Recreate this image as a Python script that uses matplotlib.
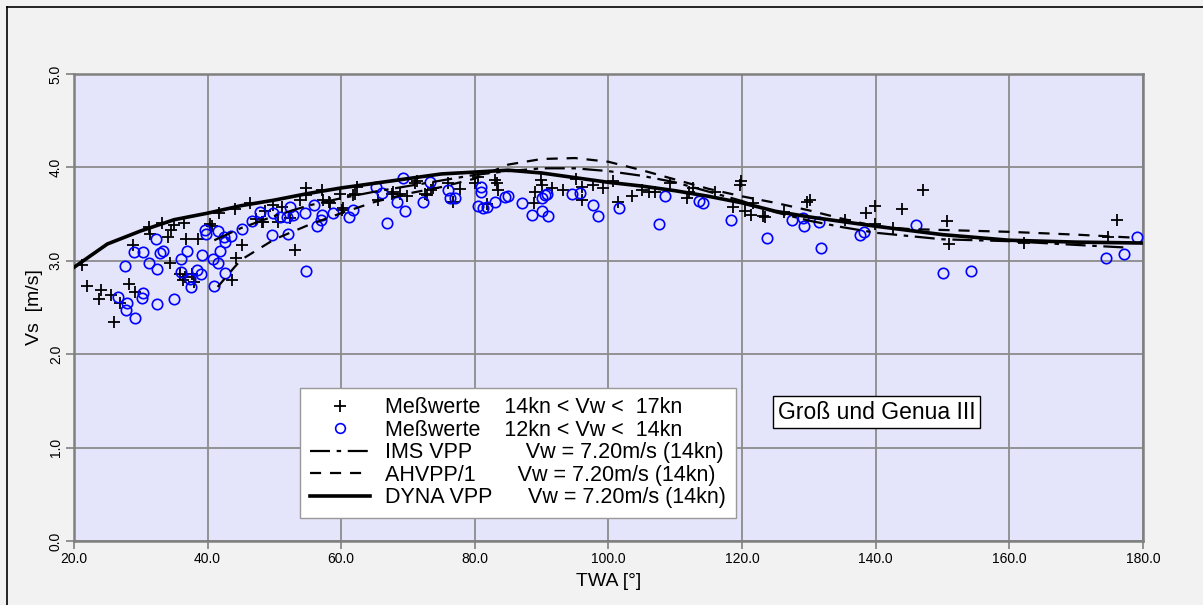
import numpy as np
import matplotlib.pyplot as plt
from matplotlib.lines import Line2D

plt.rcParams['font.family'] = ['Liberation Sans', 'DejaVu Sans']

# DYNA VPP
dyna_twa = [20, 25, 30, 35, 40, 45, 50, 55, 60, 65, 70, 75, 80, 85, 90, 95, 100, 105, 110,
            115, 120, 125, 130, 135, 140, 150, 160, 170, 180]
dyna_vs = [2.93, 3.18, 3.32, 3.44, 3.51, 3.59, 3.65, 3.72, 3.78, 3.83, 3.88, 3.93, 3.95, 3.97,
           3.94, 3.89, 3.84, 3.80, 3.75, 3.69, 3.62, 3.53, 3.47, 3.42, 3.37, 3.28, 3.22, 3.20, 3.19]
# IMS VPP
ims_twa = [41, 45, 50, 55, 60, 65, 70, 75, 80, 85, 90, 95, 100, 105, 110, 115, 120, 125, 130,
           135, 140, 150, 160, 170, 178]
ims_vs = [3.22, 3.35, 3.48, 3.59, 3.67, 3.74, 3.80, 3.86, 3.92, 3.96, 3.99, 3.99, 3.96, 3.91,
          3.84, 3.74, 3.64, 3.52, 3.43, 3.36, 3.30, 3.23, 3.21, 3.17, 3.14]
# AHVPP/1
ah_twa = [41.5, 44, 45, 50, 55, 60, 65, 70, 75, 80, 85, 90, 95, 100, 105, 110, 115, 120, 125,
          130, 135, 140, 145, 150, 160, 170, 178]
ah_vs = [2.72, 2.93, 3.01, 3.23, 3.38, 3.51, 3.63, 3.72, 3.79, 3.88, 4.03, 4.09, 4.10, 4.06,
         3.97, 3.87, 3.77, 3.69, 3.62, 3.54, 3.45, 3.37, 3.34, 3.33, 3.31, 3.28, 3.25]

# Messwerte 14kn < Vw < 17kn (crosses)
cross_twa = [21.2, 21.9, 24.0, 23.8, 25.6, 26.0, 26.9, 28.3, 29.1, 28.9, 31.3, 31.4, 33.1, 34.0,
             34.9, 34.5, 36.5, 36.8, 38.6, 34.4, 35.9, 36.3, 36.6, 37.7, 38.0, 40.4, 40.6, 41.7,
             44.1, 45.1, 44.3, 43.6, 46.4, 47.3, 48.3, 48.6, 49.8, 51.1, 53.1, 54.8, 54.8, 57.1,
             57.3, 58.3, 59.8, 60.3, 61.7, 48.1, 50.6, 52.3, 53.8, 58.1, 60.1, 62.1, 62.3, 65.5,
             67.8, 68.8, 69.8, 71.3, 72.5, 73.5, 67.6, 71.0, 72.8, 73.8, 76.0, 76.8, 77.8, 80.0,
             80.5, 81.8, 83.0, 83.3, 83.5, 89.0, 88.8, 89.9, 90.0, 91.5, 93.2, 95.2, 96.0, 96.0,
             97.7, 99.2, 100.7, 101.5, 103.5, 105.0, 106.0, 107.0, 109.2, 111.7, 112.0, 112.7,
             115.9, 118.7, 119.7, 119.9, 120.4, 121.4, 123.2, 121.7, 123.4, 126.2, 129.7, 130.1,
             135.4, 138.6, 139.9, 139.9, 142.6, 143.9, 147.1, 150.7, 151.0, 162.2, 174.8, 176.1]
cross_vs = [2.96, 2.73, 2.69, 2.59, 2.63, 2.34, 2.55, 2.75, 2.67, 3.17, 3.36, 3.29, 3.40, 3.25,
            3.38, 3.33, 3.40, 3.23, 3.23, 2.98, 2.86, 2.79, 2.83, 2.86, 2.77, 3.39, 3.37, 3.51,
            3.55, 3.17, 3.03, 2.79, 3.62, 3.45, 3.42, 3.53, 3.60, 3.58, 3.12, 3.78, 3.70, 3.76,
            3.65, 3.62, 3.72, 3.56, 3.70, 3.42, 3.42, 3.46, 3.65, 3.63, 3.54, 3.72, 3.79, 3.65,
            3.74, 3.72, 3.69, 3.85, 3.72, 3.76, 3.72, 3.83, 3.70, 3.78, 3.83, 3.63, 3.77, 3.83,
            3.90, 3.61, 3.87, 3.83, 3.76, 3.74, 3.62, 3.87, 3.81, 3.78, 3.76, 3.88, 3.79, 3.65,
            3.81, 3.78, 3.85, 3.63, 3.69, 3.76, 3.74, 3.74, 3.83, 3.67, 3.74, 3.78,
            3.74, 3.58, 3.81, 3.85, 3.53, 3.49, 3.48, 3.62, 3.47, 3.52, 3.63, 3.65,
            3.44, 3.51, 3.59, 3.39, 3.35, 3.55, 3.76, 3.43, 3.18, 3.19, 3.26, 3.44]

# Messwerte 12kn < Vw < 14kn (circles)
circ_twa = [32.3, 29.0, 30.4, 27.6, 31.2, 32.4, 32.8, 33.3, 26.6, 28.0, 27.8, 29.2, 30.3, 30.2,
            32.5, 35.0, 36.0, 36.9, 38.4, 36.0, 37.3, 37.5, 39.0, 39.2, 39.6, 39.8, 40.8, 41.6,
            41.6, 41.9, 42.4, 42.6, 43.5, 42.6, 41.0, 45.2, 46.7, 47.8, 49.8, 50.8, 51.9, 52.3,
            52.8, 54.6, 55.9, 57.1, 56.9, 56.4, 58.7, 61.1, 61.7, 49.7, 52.1, 54.8, 65.2, 66.1,
            66.8, 68.3, 69.2, 69.5, 72.2, 73.3, 76.0, 76.3, 77.0, 80.9, 80.9, 80.5, 81.2, 81.8,
            83.0, 84.5, 85.0, 87.0, 88.5, 90.0, 90.5, 90.8, 90.1, 91.0, 94.6, 95.8, 97.7, 98.5,
            101.6, 107.5, 108.4, 113.6, 114.2, 118.4, 123.8, 127.4, 129.1, 129.3, 131.5, 131.8,
            137.6, 138.2, 146.1, 150.0, 154.3, 174.4, 177.2, 179.1]
circ_vs = [3.23, 3.09, 3.09, 2.94, 2.98, 2.91, 3.08, 3.10, 2.61, 2.55, 2.47, 2.39, 2.65, 2.60,
           2.54, 2.59, 3.02, 3.10, 2.90, 2.88, 2.80, 2.72, 2.86, 3.06, 3.33, 3.29, 3.02, 3.32,
           2.98, 3.11, 3.26, 3.20, 3.27, 2.87, 2.73, 3.34, 3.43, 3.52, 3.51, 3.47, 3.47, 3.58,
           3.49, 3.51, 3.60, 3.49, 3.44, 3.37, 3.51, 3.47, 3.54, 3.28, 3.29, 2.89, 3.79, 3.73,
           3.40, 3.63, 3.89, 3.53, 3.63, 3.84, 3.76, 3.67, 3.67, 3.79, 3.74, 3.59, 3.57, 3.58,
           3.63, 3.68, 3.69, 3.62, 3.49, 3.67, 3.70, 3.72, 3.53, 3.48, 3.71, 3.73, 3.60, 3.48,
           3.57, 3.39, 3.69, 3.64, 3.62, 3.44, 3.24, 3.44, 3.46, 3.37, 3.41, 3.14,
           3.28, 3.31, 3.38, 2.87, 2.89, 3.03, 3.07, 3.25]

fig = plt.figure(figsize=(12.03, 6.05), dpi=100, facecolor='#f2f2f2')
ax = fig.add_axes([0.0615, 0.1058, 0.8886, 0.7719])
ax.set_facecolor('#e4e4fb')

# outer frame (only left and top visible)
fig.add_artist(Line2D([0.0058, 0.0058], [0, 0.9884], transform=fig.transFigure, color='black', lw=1.2))
fig.add_artist(Line2D([0.0058, 1], [0.9884, 0.9884], transform=fig.transFigure, color='black', lw=1.2))

ax.plot(cross_twa, cross_vs, '+', color='black', ms=8, mew=1.3, zorder=3)
ax.plot(circ_twa, circ_vs, 'o', mfc='none', mec='#0000ff', ms=7.5, mew=1.2, zorder=3)
ax.plot(ims_twa, ims_vs, color='black', lw=1.6, dashes=(9, 3, 2, 3), zorder=4)
ax.plot(ah_twa, ah_vs, color='black', lw=1.6, dashes=(5, 4), zorder=4)
ax.plot(dyna_twa, dyna_vs, color='black', lw=2.6, zorder=4)

ax.set_xlim(20, 180)
ax.set_ylim(0, 5)
ax.set_xticks(np.arange(20, 181, 20))
ax.set_yticks(np.arange(0, 5.1, 1))
ax.set_xticklabels(['%.1f' % v for v in np.arange(20, 181, 20)], fontsize=10)
ax.set_yticklabels(['%.1f' % v for v in np.arange(0, 5.1, 1)], fontsize=10, rotation=90, va='center')
ax.grid(True, color='#8c8c8c', lw=1.3)
ax.set_axisbelow(True)
for s in ax.spines.values():
    s.set_color('#808080')
    s.set_linewidth(1.8)
ax.tick_params(colors='#808080', length=6, width=1.2, labelcolor='black', pad=2)

ax.set_xlabel('TWA [°]', fontsize=14, labelpad=5)
ax.set_ylabel('Vs  [m/s]', fontsize=14, labelpad=4)

handles = [Line2D([], [], ls='none', marker='+', color='black', ms=8, mew=1.3),
           Line2D([], [], ls='none', marker='o', mfc='none', mec='#0000ff', ms=7, mew=1.2),
           Line2D([], [], color='black', lw=1.6, dashes=(9, 3, 2, 3)),
           Line2D([], [], color='black', lw=1.6, dashes=(5, 4)),
           Line2D([], [], color='black', lw=2.6)]
labels = ['Meßwerte    14kn < Vw <  17kn',
          'Meßwerte    12kn < Vw <  14kn',
          'IMS VPP         Vw = 7.20m/s (14kn)',
          'AHVPP/1       Vw = 7.20m/s (14kn)',
          'DYNA VPP      Vw = 7.20m/s (14kn)']
leg = ax.legend(handles, labels, loc='lower left', bbox_to_anchor=(0.2114, 0.049),
                fontsize=15.5, frameon=True, fancybox=False, framealpha=1, edgecolor='#999999',
                labelspacing=0.07, handlelength=2.8, handletextpad=0.7, borderpad=0.45,
                borderaxespad=0)
leg.get_frame().set_linewidth(1.0)

ax.text(0.751, 0.276, 'Groß und Genua III', transform=ax.transAxes, fontsize=16.5,
        ha='center', va='center',
        bbox=dict(boxstyle='square,pad=0.2', fc='white', ec='black', lw=1.0))

plt.savefig('out.png', dpi=100, facecolor=fig.get_facecolor())
